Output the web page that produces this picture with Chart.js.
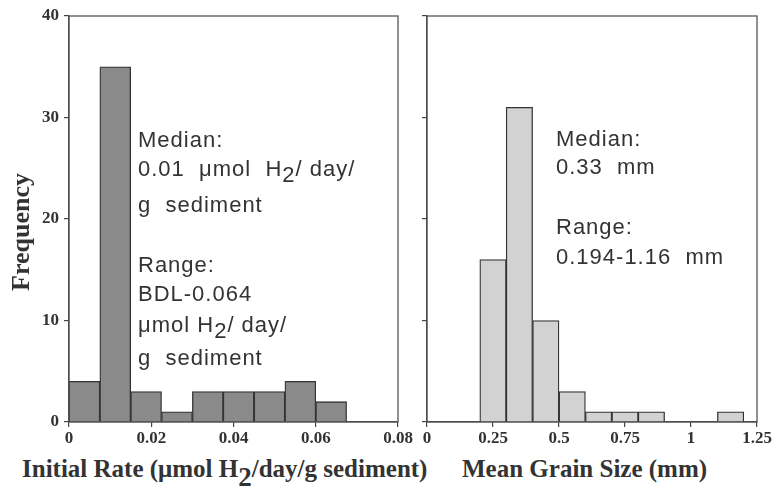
<!DOCTYPE html>
<html>
<head>
<meta charset="utf-8">
<script src="https://cdn.jsdelivr.net/npm/chart.js@4.4.1/dist/chart.umd.min.js"></script>
<style>
body { margin: 0; background: #fff; }
#wrap { position: relative; width: 773px; height: 495px; overflow: hidden; }
canvas { position: absolute; left: 0; top: 0; }
.note { position: absolute; font: 22px "Liberation Sans", Arial, sans-serif; color: #333; white-space: pre; line-height: 22px; letter-spacing: 1px; }
.note .sub { position: relative; top: 6px; }
.title { position: absolute; font: bold 25px "Liberation Serif", "Times New Roman", serif; color: #333; white-space: pre; line-height: 25px; }
.title .sub { position: relative; top: 9px; font-size: 27px; }
#ytitle { left: -79px; top: 219px; width: 200px; height: 26px; line-height: 26px; font-size: 26px; text-align: center; transform: rotate(-90deg); }
</style>
</head>
<body>
<div id="wrap">
  <canvas id="rateChart" width="773" height="445"></canvas>
  <canvas id="grainChart" width="773" height="445"></canvas>

  <div class="note" style="left:138px;top:129px">Median:</div>
  <div class="note" style="left:138px;top:158px">0.01  μmol  H<span class="sub">2</span>/ day/</div>
  <div class="note" style="left:138px;top:194px">g  sediment</div>
  <div class="note" style="left:138px;top:254px">Range:</div>
  <div class="note" style="left:138px;top:283px">BDL-0.064</div>
  <div class="note" style="left:138px;top:314px">μmol H<span class="sub">2</span>/ day/</div>
  <div class="note" style="left:138px;top:347px">g  sediment</div>

  <div class="note" style="left:556px;top:128px">Median:</div>
  <div class="note" style="left:556px;top:156px">0.33  mm</div>
  <div class="note" style="left:556px;top:216px">Range:</div>
  <div class="note" style="left:556px;top:246px">0.194-1.16  mm</div>

  <div class="title" id="ytitle">Frequency</div>
  <div class="title" style="left:22px;top:456px">Initial Rate (μmol H<span class="sub">2</span>/day/g sediment)</div>
  <div class="title" style="left:462px;top:456px">Mean Grain Size (mm)</div>
</div>
<script>
// histogram bins: initial rate
const rateEdges = [0, 0.0075, 0.015, 0.0225, 0.03, 0.0375, 0.045, 0.0525, 0.06, 0.0675];
const rateCounts = [4, 35, 3, 1, 3, 3, 3, 4, 2];
const rateTicks = [0, 0.02, 0.04, 0.06, 0.08];

// histogram bins: mean grain size (mm)
const grainLow = [0.2, 0.3, 0.4, 0.5, 0.6, 0.7, 0.8, 1.1];
const grainHigh = [0.3, 0.4, 0.5, 0.6, 0.7, 0.8, 0.9, 1.2];
const grainCounts = [16, 31, 10, 3, 1, 1, 1, 1];
const grainTicks = [0, 0.25, 0.5, 0.75, 1, 1.25];

const freqTicks = [0, 10, 20, 30, 40];

const tickFont = { family: 'Liberation Serif', size: 17, weight: 'bold' };

// box round the plot area
const frame = {
    id: 'frame',
    afterDatasetsDraw(chart) {
        const { ctx, chartArea: a } = chart;
        ctx.save();
        ctx.strokeStyle = '#555';
        ctx.lineWidth = 1.3;
        ctx.strokeRect(a.left, a.top, a.right - a.left, a.bottom - a.top);
        ctx.restore();
    }
};

function makeOptions(xTicks, xMax, pad, yWidth, yLabels) {
    return {
        responsive: false,
        animation: false,
        layout: { padding: pad },
        plugins: { legend: { display: false }, tooltip: { enabled: false } },
        scales: {
            x: {
                type: 'linear',
                min: 0,
                max: xMax,
                offset: false,
                afterBuildTicks: s => { s.ticks = xTicks.map(v => ({ value: v })) },
                afterFit: s => { s.height = 23; s.paddingLeft = 0; s.paddingRight = 0 },
                grid: { drawOnChartArea: false, drawTicks: true, tickLength: 5, color: '#444', lineWidth: 1.2, offset: false },
                border: { display: true, color: '#444', width: 1.3 },
                ticks: { font: tickFont, color: '#333', padding: 1, maxRotation: 0, autoSkip: false, callback: v => String(v) }
            },
            y: {
                min: 0,
                max: 40,
                afterBuildTicks: s => { s.ticks = freqTicks.map(v => ({ value: v })) },
                afterFit: s => { s.width = yWidth; s.paddingTop = 0; s.paddingBottom = 0 },
                grid: { drawOnChartArea: false, drawTicks: true, tickLength: 5, color: '#444', lineWidth: 1.2 },
                border: { display: true, color: '#444', width: 1.3 },
                ticks: { display: yLabels, font: tickFont, color: '#333', padding: 5 }
            }
        }
    }
}

new Chart(document.getElementById('rateChart'), {
    type: 'bar',
    data: {
        datasets: [{
            data: rateCounts.map((c, i) => ({ x: (rateEdges[i] + rateEdges[i + 1]) / 2, y: c })),
            backgroundColor: '#8a8a8a',
            borderColor: '#333',
            borderWidth: 1.3,
            barPercentage: 1,
            categoryPercentage: 1
        }]
    },
    options: makeOptions(rateTicks, 0.08, { left: 0, top: 16, right: 375, bottom: 0 }, 69, true),
    plugins: [frame]
})

new Chart(document.getElementById('grainChart'), {
    type: 'bar',
    data: {
        datasets: [{
            data: grainCounts.map((c, i) => ({ x: (grainLow[i] + grainHigh[i]) / 2, y: c })),
            backgroundColor: '#d2d2d2',
            borderColor: '#333',
            borderWidth: 1.3,
            barPercentage: 1,
            categoryPercentage: 1
        }]
    },
    options: makeOptions(grainTicks, 1.25, { left: 400, top: 16, right: 16, bottom: 0 }, 27, false),
    plugins: [frame]
})
</script>
</body>
</html>
